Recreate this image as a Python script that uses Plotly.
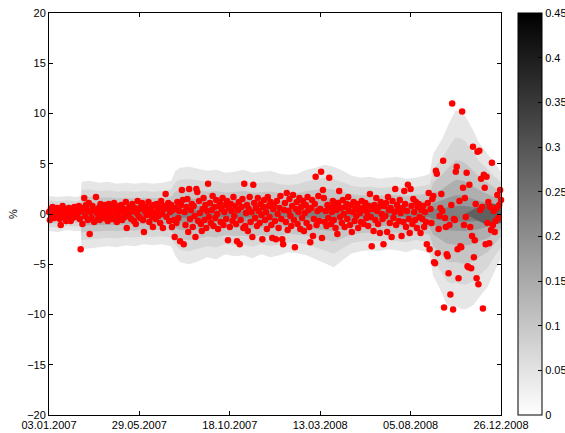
import plotly.graph_objects as go

# ---------------- data ----------------
# daily returns (%) by trading-day index 0..500
returns_pct = [
    0.2, -0.6, 0.5, -0.3, 0.7, 0.1, -0.4, 0.3, -0.2, 0.6,
    -0.1, 0.4, -0.5, -1.1, 0.2, 0.8, -0.3, 0.1, 0.5, -0.7,
    0.3, -0.2, 0.6, 0.0, -0.7, 0.4, -0.4, 0.2, 0.7, -0.1,
    0.5, -0.3, 0.1, 0.8, -0.5, -3.5, 0.3, -1.0, 0.6, 1.6,
    -0.2, 0.9, 0.4, -0.6, 1.1, -2.0, 0.2, -0.4, 0.8, 0.5,
    -0.8, 0.3, 1.7, 0.1, -0.5, 0.6, -0.6, 1.0, -0.1, 0.4,
    0.3, -0.4, 0.9, -0.1, 0.5, -0.7, 1.0, 0.2, -0.3, 0.7,
    -0.5, 0.4, 1.1, -0.2, 0.6, -0.8, 0.1, 0.8, -0.4, 0.3,
    0.9, -0.6, 0.2, 0.5, -0.3, 1.2, -1.4, 0.4, -0.1, 0.7,
    0.2, -0.5, 1.0, 0.3, -0.7, 0.6, -1.0, 0.1, 1.3, -0.2,
    0.5, -0.4, 0.8, 1.1, -0.6, -1.8, 0.3, 0.7, -0.1, 0.4,
    1.2, -0.8, 0.2, 0.6, -0.3, -1.3, 0.9, 0.1, -0.5, 1.0,
    0.4, -0.2, 0.7, -0.9, 1.3, 0.0, -1.4, 0.5, 0.8, 2.0,
    -0.3, 0.6, 1.1, -0.7, 0.2, 0.9, -1.3, 0.4, -0.6, -2.3,
    0.6, -0.9, 1.2, -0.4, 0.3, -2.7, 0.9, 2.4, 1.4, -3.0,
    0.2, -1.1, 0.7, 1.5, -1.8, 2.5, -0.5, 0.4, 1.0, -1.3,
    0.8, -0.2, -2.3, 2.5, 2.2, -0.7, 1.3, 0.1, -1.0, -1.7,
    0.5, 1.6, -0.6, 0.9, -1.4, 0.3, 3.0, -0.3, 1.1, -0.9,
    0.4, 1.8, -1.2, 0.7, -0.4, 1.4, 0.0, -1.5, 0.8, 1.2,
    -0.8, 0.5, 1.6, -1.1, 0.2, 0.9, -0.5, 1.3, -2.6, 0.6,
    -1.3, 1.0, 0.3, -0.7, 1.7, -0.2, 0.8, -1.0, -2.7, 0.4,
    1.2, -3.0, -0.6, 0.7, 1.5, -1.4, 3.0, -1.2, 0.1, 0.9,
    -1.7, 0.5, 1.7, -0.8, 0.2, -2.3, 2.9, 1.1, -0.4, 0.6,
    -1.2, 1.6, 0.3, -0.9, 1.0, -0.1, -2.5, 0.7, 1.4, -0.6,
    0.2, -1.5, 1.7, 0.8, -0.3, 1.2, -1.1, -2.4, 0.5, 0.9,
    -0.7, -2.5, 1.3, 0.0, -1.4, 0.6, 1.8, -0.5, -2.5, -3.0,
    0.4, 1.1, -0.8, 2.1, -1.6, 0.3, 1.5, -0.2, -1.2, 0.8,
    1.9, -0.6, -3.3, 0.5, 1.2, -1.0, 0.2, 1.6, -1.5, 0.7,
    -0.4, 1.3, -1.7, 0.1, 0.9, -0.9, 1.7, 0.4, -1.3, -2.8,
    0.6, 1.4, -2.2, -0.5, 1.0, 3.7, -1.1, 0.3, 1.8, -0.7,
    0.5, 4.2, -2.4, 2.4, 1.6, -0.8, 0.3, -1.2, 0.9, -0.4,
    3.6, 0.7, -1.0, 0.2, 1.3, -0.6, 0.8, -1.4, 0.4, -2.0,
    1.1, 2.3, -0.3, 0.6, -0.9, 1.4, 0.0, -1.3, 0.7, 1.0,
    -0.5, 1.7, 0.3, -1.1, 0.9, -1.8, 0.2, 1.2, -0.7, 0.5,
    -0.2, 1.0, -1.4, 0.6, 0.1, -0.8, 1.3, 0.4, -1.0, 0.7,
    1.1, -0.4, 0.2, -1.2, 0.8, 2.0, -0.3, -3.2, 0.5, -1.7,
    0.9, -0.6, 1.6, 0.3, -1.0, 0.7, -1.9, 1.2, 0.0, -0.5,
    -3.0, 0.8, -0.2, 1.1, -1.8, 1.7, 0.4, -0.9, 0.6, -2.3,
    1.3, -0.4, 0.2, 2.5, -1.1, 0.9, 0.5, -0.7, 1.4, 0.1,
    -2.2, 0.6, -0.8, 2.3, 1.0, -1.3, 0.3, 2.9, -0.5, -1.9,
    2.5, 0.8, -1.0, 1.5, 0.2, -0.6, 1.2, -1.4, 0.7, 1.0, -0.3,
    -1.9, 0.4, -0.5, 0.8, -1.3, 0.2, -0.8, -3.0, 1.1, 2.1,
    -3.5, 0.5, -0.9, 1.5, 1.8, -4.8, -4.9, 4.3, 4.0, -3.9,
    -1.5, -0.2, 0.6, 2.0, 0.3, 5.3, -9.3, -0.4, -1.3, -4.0,
    -4.2, -5.9, -1.1, -8.0, 0.9, 11.0, -9.5, -0.5, -0.6, 4.2,
    4.7, -3.5, -6.4, 1.3, -3.2, -3.3, 10.2, 2.6, -1.1, 1.6,
    -0.3, 4.1, -5.2, -5.3, 2.9, -1.3, -5.4, -2.2, 6.7, -4.3,
    -2.6, 1.0, -6.4, 6.2, -7.0, 6.3, 0.4, 3.5, 0.7, -9.4,
    3.9, 2.6, -3.0, 3.7, -0.9, 1.2, -2.9, 0.7, -1.6, 5.1,
    -1.1, 0.3, -1.8, -0.7, 0.6, 1.9, -0.4, 0.9, 2.4, 1.4,
]
day_index = list(range(len(returns_pct)))

# date tick labels (every 100 trading days)
tick_index = [0, 100, 200, 300, 400, 500]
tick_dates = ["03.01.2007", "29.05.2007", "18.10.2007", "13.03.2008", "05.08.2008", "26.12.2008"]

# predictive-density fan: outer envelope at knots (trading-day index)
fan_x = [0, 10, 20, 30, 35, 36, 45, 55, 65, 75, 85, 95, 105, 115, 125, 135, 140, 145, 155,
         165, 175, 185, 195, 205, 215, 225, 235, 245, 255, 265, 275, 285, 295, 305, 315,
         325, 335, 345, 355, 365, 375, 385, 395, 405, 415, 421, 425, 430, 435, 440, 445,
         450, 455, 460, 465, 470, 475, 480, 485, 490, 495, 500]
fan_upper = [1.8, 1.7, 1.8, 1.7, 1.8, 3.2, 3.3, 3.1, 3.2, 3.0, 3.1, 3.0, 3.1, 3.0, 3.1, 3.3, 4.3, 4.6, 4.7,
             4.5, 4.3, 4.4, 4.1, 4.2, 4.4, 4.1, 4.2, 4.3, 4.0, 3.9, 4.0, 4.4, 4.6, 4.9, 4.7,
             4.3, 3.8, 3.6, 3.7, 3.5, 3.6, 3.7, 3.5, 3.6, 3.8, 4.0, 6.0, 6.8, 7.5, 8.5, 9.5,
             10.3, 10.2, 9.8, 9.0, 8.2, 7.2, 6.6, 6.0, 5.4, 4.8, 4.2]
fan_lower = [-1.7, -1.8, -1.6, -1.7, -1.7, -3.5, -3.4, -3.3, -3.2, -3.3, -3.1, -3.2, -3.0, -3.1, -3.0, -3.2, -4.2, -4.8, -5.0,
             -4.7, -4.3, -4.5, -4.0, -4.2, -4.1, -4.4, -4.0, -4.3, -4.1, -3.8, -3.9, -4.1, -4.5, -4.9, -5.3,
             -4.6, -3.9, -3.7, -3.6, -3.7, -3.5, -3.6, -3.8, -3.5, -3.7, -4.0, -6.2, -7.0, -8.0, -9.0, -9.3,
             -9.2, -9.4, -9.5, -9.3, -9.0, -8.4, -7.8, -7.3, -6.3, -5.3, -4.5]
# high-density core near the end of the sample
core_x = [460, 468, 475, 482, 488, 494, 500]
core_half = [0.0, 0.4, 0.7, 1.0, 1.1, 1.0, 0.9]

colorbar_ticks = [0, 0.05, 0.1, 0.15, 0.2, 0.25, 0.3, 0.35, 0.4, 0.45]

# ---------------- styles ----------------
band_fracs = [1.0, 0.74, 0.52, 0.33, 0.18, 0.08]
band_colors = ["#e6e6e6", "#d7d7d7", "#c5c5c5", "#afafaf", "#989898", "#7f7f7f"]
core_color = "#606060"
FONT = "Liberation Sans, Arial, Helvetica, sans-serif"

fig = go.Figure()

for frac, col in zip(band_fracs, band_colors):
    xs = fan_x + fan_x[::-1]
    ys = [u * frac for u in fan_upper] + [l * frac for l in fan_lower[::-1]]
    fig.add_trace(go.Scatter(x=xs, y=ys, mode="lines", fill="toself", fillcolor=col,
                             line=dict(width=0), hoverinfo="skip", showlegend=False))

fig.add_trace(go.Scatter(x=core_x + core_x[::-1],
                         y=core_half + [-h for h in core_half[::-1]],
                         mode="lines", fill="toself", fillcolor=core_color,
                         line=dict(width=0), hoverinfo="skip", showlegend=False))

# colour bar (density scale)
fig.add_trace(go.Heatmap(
    z=[colorbar_ticks], x=[-100 + i for i in range(len(colorbar_ticks))], y=[0],
    zmin=0, zmax=0.45, colorscale=[[0, "#ffffff"], [1, "#000000"]],
    hoverinfo="skip", showscale=True,
    colorbar=dict(x=(518 - 49) / 452, xanchor="left", xpad=0, ypad=0,
                  y=0.5, yanchor="middle", len=1, lenmode="fraction",
                  thickness=24, thicknessmode="pixels",
                  outlinewidth=1, outlinecolor="black",
                  tickvals=colorbar_ticks, ticktext=[str(t) for t in colorbar_ticks],
                  ticks="inside", ticklen=4, tickcolor="black",
                  tickfont=dict(family=FONT, size=11, color="black")),
))

fig.add_trace(go.Scatter(x=day_index, y=returns_pct, mode="markers",
                         marker=dict(color="#ff0000", size=6.5, line=dict(width=0)),
                         cliponaxis=False, showlegend=False))

fig.update_layout(
    width=565, height=433,
    margin=dict(l=49, r=64, t=13, b=18, autoexpand=False),
    paper_bgcolor="white", plot_bgcolor="white",
    font=dict(family=FONT, size=11, color="black"),
    showlegend=False,
    xaxis=dict(range=[0, 500], tickvals=tick_index, ticktext=tick_dates,
               ticks="inside", ticklen=4, tickcolor="black",
               showline=True, linecolor="black", linewidth=1, mirror="ticks",
               showgrid=False, zeroline=False, automargin=False,
               tickfont=dict(family=FONT, size=11, color="black")),
    yaxis=dict(range=[-20, 20], tickvals=[-20, -15, -10, -5, 0, 5, 10, 15, 20],
               ticks="inside", ticklen=4, tickcolor="black",
               showline=True, linecolor="black", linewidth=1, mirror="ticks",
               showgrid=False, zeroline=False, automargin=False,
               title=dict(text="%", standoff=7, font=dict(family=FONT, size=11)),
               tickfont=dict(family=FONT, size=11, color="black")),
)

fig.write_html("out.html")
